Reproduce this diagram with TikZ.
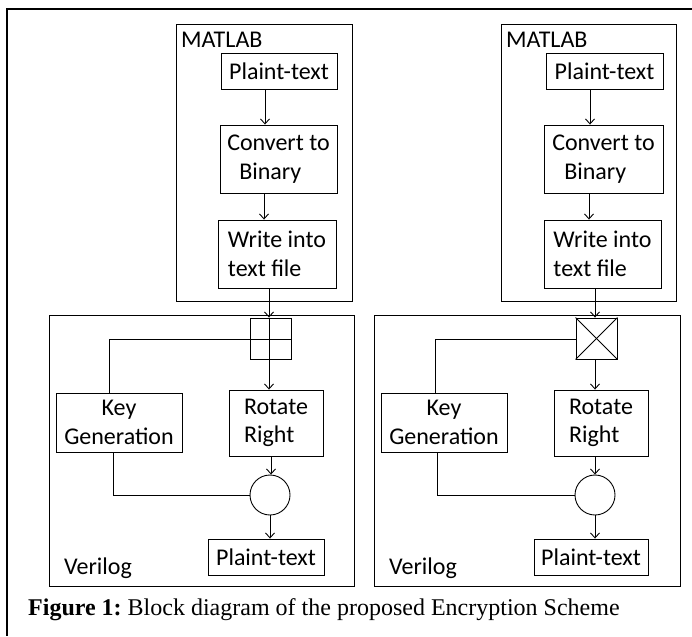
\documentclass[tikz,border=0pt]{standalone}
\usepackage{fontspec}
\setmainfont{Liberation Serif}
\newfontfamily\calfont{Carlito}
\usetikzlibrary{arrows.meta}

\tikzset{
    blk/.style={draw, line width=0.9pt, inner sep=0pt, align=left,
        font=\calfont\fontsize{24}{28.5}\selectfont},
    frame/.style={draw, line width=0.9pt, anchor=north west, inner sep=0pt},
    lbl/.style={anchor=west, inner sep=0pt, font=\calfont\fontsize{24}{28.5}\selectfont},
    flow/.style={-{Straight Barb[length=5pt,width=9pt]}, line width=0.9pt},
    wire/.style={line width=0.9pt},
}

\begin{document}
\begin{tikzpicture}[x=1pt, y=-1pt]
    \useasboundingbox (0,0) rectangle (692,636);

    % outer frame (top and left only)
    \draw[line width=1.6pt] (692,9) -- (7,9) -- (7,636);

    % ---- left panel ----
    \node[frame, minimum width=176pt, minimum height=277pt] (mlL) at (176,24) {};
    \node[lbl] (mtL) at (181,40) {MATLAB};
    \node[blk, minimum width=116pt, minimum height=36pt] (ptL) at (279,71) {Plaint-text};
    \node[blk, minimum width=117pt, minimum height=68pt] (cvL) at (278.5,159) {Convert to\\\hspace{12pt}Binary};
    \node[blk, minimum width=118pt, minimum height=68pt] (wrL) at (277,254) {Write into\\text file};

    \node[frame, minimum width=305pt, minimum height=271pt] (vlL) at (49,315) {};
    \node[lbl] (vtL) at (64,568) {Verilog};
    \node[blk, minimum size=41pt] (xbL) at (271,338.5) {};
    \node[blk, align=center, minimum width=126pt, minimum height=59pt] (kgL) at (119,422.5) {Key\\Generation};
    \node[blk, minimum width=94pt, minimum height=66pt] (rrL) at (276,423) {Rotate\\Right};
    \node[blk, circle, minimum size=40pt] (ciL) at (270,495) {};
    \node[blk, minimum width=116pt, minimum height=36pt] (pbL) at (266,557) {Plaint-text};

    \coordinate (aL) at (265,0);
    \coordinate (bL) at (264,0);
    \coordinate (cL) at (269,0);
    \coordinate (dL) at (271,0);
    \coordinate (eL) at (270,0);
    \coordinate (kuL) at (109,339);
    \coordinate (kdL) at (113,495);

    \draw[flow] (ptL.south -| aL) -- (cvL.north -| aL);
    \draw[flow] (cvL.south -| bL) -- (wrL.north -| bL);
    \draw[flow] (wrL.south -| cL) -- (xbL.north -| cL);
    \draw[wire] (xbL.north -| cL) -- (xbL.south -| cL);
    \draw[wire] (xbL.east |- kuL) -- (kuL) -- (kgL.north -| kuL);
    \draw[flow] (xbL.south -| cL) -- (rrL.north -| cL);
    \draw[flow] (rrL.south -| dL) -- (ciL.north -| dL);
    \draw[wire] (kgL.south -| kdL) -- (kdL) -- (ciL.west);
    \draw[flow] (ciL.south -| eL) -- (pbL.north -| eL);

    % ---- right panel ----
    \node[frame, minimum width=175pt, minimum height=277pt] (mlR) at (501,24) {};
    \node[lbl] (mtR) at (506,40) {MATLAB};
    \node[blk, minimum width=117pt, minimum height=36pt] (ptR) at (604.5,71) {Plaint-text};
    \node[blk, minimum width=119pt, minimum height=68pt] (cvR) at (603.5,159) {Convert to\\\hspace{12pt}Binary};
    \node[blk, minimum width=117pt, minimum height=68pt] (wrR) at (602.5,254) {Write into\\text file};

    \node[frame, minimum width=306pt, minimum height=271pt] (vlR) at (374,315) {};
    \node[lbl] (vtR) at (389,568) {Verilog};
    \node[blk, minimum size=41pt] (xbR) at (596.5,338.5) {};
    \node[blk, align=center, minimum width=126pt, minimum height=59pt] (kgR) at (444,422.5) {Key\\Generation};
    \node[blk, minimum width=94pt, minimum height=66pt] (rrR) at (601,423) {Rotate\\Right};
    \node[blk, circle, minimum size=40pt] (ciR) at (595,495) {};
    \node[blk, minimum width=114pt, minimum height=36pt] (pbR) at (591,557) {Plaint-text};

    \coordinate (aR) at (590,0);
    \coordinate (bR) at (589,0);
    \coordinate (cR) at (595,0);
    \coordinate (kuR) at (435,339);
    \coordinate (kdR) at (437,495);

    \draw[flow] (ptR.south -| aR) -- (cvR.north -| aR);
    \draw[flow] (cvR.south -| bR) -- (wrR.north -| bR);
    \draw[flow] (wrR.south -| cR) -- (xbR.north -| cR);
    \draw[wire] (xbR.north west) -- (xbR.south east);
    \draw[wire] (xbR.north east) -- (xbR.south west);
    \draw[wire] (xbR.west |- kuR) -- (kuR) -- (kgR.north -| kuR);
    \draw[flow] (xbR.south -| cR) -- (rrR.north -| cR);
    \draw[flow] (rrR.south -| cR) -- (ciR.north -| cR);
    \draw[wire] (kgR.south -| kdR) -- (kdR) -- (ciR.west);
    \draw[flow] (ciR.south -| cR) -- (pbR.north -| cR);

    % caption
    \node[anchor=base west, inner sep=0pt, font=\fontsize{24}{28}\selectfont] (cap) at (28,615)
        {\frenchspacing\textbf{Figure 1:} Block diagram of the proposed Encryption Scheme};
\end{tikzpicture}
\end{document}
